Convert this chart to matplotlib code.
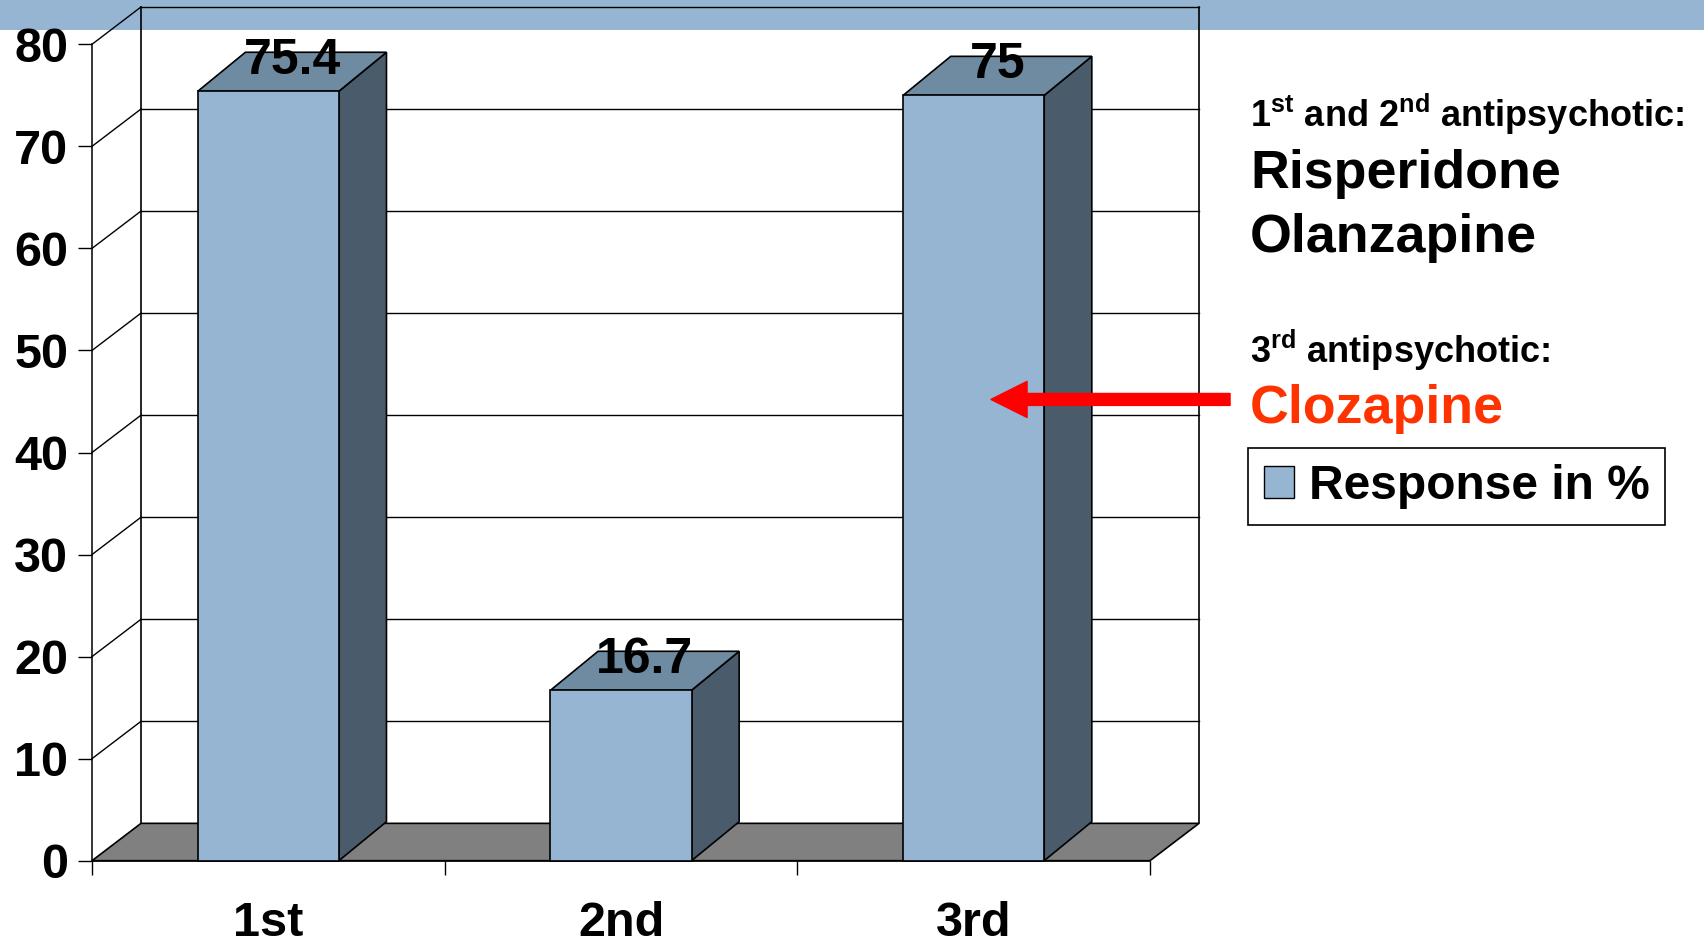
import matplotlib
matplotlib.use('Agg')
import matplotlib.pyplot as plt
from matplotlib.patches import Polygon, Rectangle, Patch

plt.rcParams['font.family'] = ['Liberation Sans', 'DejaVu Sans']
plt.rcParams['mathtext.fontset'] = 'custom'
plt.rcParams['mathtext.rm'] = 'Liberation Sans'
plt.rcParams['mathtext.bf'] = 'Liberation Sans:bold'

# данные
categories = ['1st', '2nd', '3rd']
response = [75.4, 16.7, 75]
y_ticks = [0, 10, 20, 30, 40, 50, 60, 70, 80]

# цвета
band_c = '#95B5D3'
front_c = '#95B5D3'
top_c = '#6E8BA1'
side_c = '#4A5B6B'
floor_c = '#808080'

# глубина "3D" в единицах данных
WDX, WDY = 0.139, 3.66
BDX, BDY = 0.135, 3.82
BW = 0.40

fig = plt.figure(figsize=(17.04, 9.43), dpi=100)
# синяя полоса сверху
fig.patches.append(Rectangle((0, 1 - 30 / 943), 1, 30 / 943, transform=fig.transFigure,
                             facecolor=band_c, edgecolor='none', zorder=-1))

ax = fig.add_axes([92 / 1704, (943 - 860.7) / 943, 1058 / 1704, 816.4 / 943])
ax.patch.set_visible(False)
ax.set_xlim(0, 3)
ax.set_ylim(0, 80)
n = len(categories)

# пол
ax.add_patch(Polygon([(0, 0), (n, 0), (n + WDX, WDY), (WDX, WDY)], closed=True,
                     facecolor=floor_c, edgecolor='black', lw=1.2, clip_on=False, zorder=1))
# сетка на задней и левой стенках
for v in y_ticks[1:]:
    ax.plot([WDX, n + WDX], [v + WDY, v + WDY], color='black', lw=1, clip_on=False, zorder=1)
    ax.plot([0, WDX], [v, v + WDY], color='black', lw=1, clip_on=False, zorder=1)
ax.plot([WDX, WDX], [WDY, 80 + WDY], color='black', lw=1.2, clip_on=False, zorder=1)
ax.plot([n + WDX, n + WDX], [WDY, 80 + WDY], color='black', lw=1.2, clip_on=False, zorder=1)

# столбцы
for i, v in enumerate(response):
    x0 = i + 0.5 - BW / 2
    x1 = x0 + BW
    ax.add_patch(Polygon([(x1, 0), (x1 + BDX, BDY), (x1 + BDX, v + BDY), (x1, v)], closed=True,
                         facecolor=side_c, edgecolor='black', lw=1.2, clip_on=False, zorder=3))
    ax.add_patch(Polygon([(x0, v), (x1, v), (x1 + BDX, v + BDY), (x0 + BDX, v + BDY)], closed=True,
                         facecolor=top_c, edgecolor='black', lw=1.2, clip_on=False, zorder=3))
    ax.add_patch(Rectangle((x0, 0), BW, v, facecolor=front_c, edgecolor='black', lw=1.2,
                           clip_on=False, zorder=4))
    ax.text(i + 0.5 + BDX / 2, v + BDY - 0.4, f'{v:g}', ha='center', va='center_baseline',
            fontsize=36, fontweight='bold', zorder=5)

# оси
for s in ['top', 'right']:
    ax.spines[s].set_visible(False)
for s in ['left', 'bottom']:
    ax.spines[s].set_linewidth(1.1)
    ax.spines[s].set_zorder(2)
ax.set_yticks(y_ticks)
ax.set_yticklabels([str(t) for t in y_ticks], fontsize=35, fontweight='bold')
ax.tick_params(axis='y', direction='out', length=10, width=1, pad=7)
ax.set_xticks(range(n + 1))
ax.set_xticklabels([])
ax.set_xticks([i + 0.5 for i in range(n)], minor=True)
ax.set_xticklabels(categories, minor=True, fontsize=35, fontweight='bold')
ax.tick_params(axis='x', which='major', direction='out', length=10, width=1)
ax.tick_params(axis='x', which='minor', length=0, pad=29)

# стрелка на 3-й столбец
ax.annotate('', xy=(2.549, 45.2), xytext=(3.227, 45.2),
            arrowprops=dict(facecolor='#FF0000', edgecolor='#FF0000', width=8.6,
                            headwidth=26, headlength=26, shrink=0),
            annotation_clip=False, zorder=6)

# подписи справа
tx = 1250 / 1704
fig.text(tx, 1 - 126.7 / 943, r'$\mathbf{1^{st}}$ and $\mathbf{2^{nd}}$ antipsychotic:',
         fontsize=26, fontweight='bold', va='baseline')
fig.text(tx, 1 - 188 / 943, 'Risperidone', fontsize=38.7, fontweight='bold', va='baseline')
fig.text(tx, 1 - 251.7 / 943, 'Olanzapine', fontsize=38.7, fontweight='bold', va='baseline')
fig.text(tx, 1 - 363 / 943, r'$\mathbf{3^{rd}}$ antipsychotic:',
         fontsize=26, fontweight='bold', va='baseline')
fig.text(tx, 1 - 423 / 943, 'Clozapine', fontsize=38.7, fontweight='bold', va='baseline',
         color='#FF3300')

leg = ax.legend(handles=[Patch(facecolor=front_c, edgecolor='black', lw=1)],
                labels=['Response in %'], loc='upper left',
                bbox_to_anchor=(1248 / 1704, 1 - 448 / 943), bbox_transform=fig.transFigure,
                prop=dict(weight='bold', size=34.5), frameon=True, fancybox=False,
                edgecolor='black', framealpha=1, borderpad=0.33, handletextpad=0.32,
                handlelength=0.62, handleheight=0.66, borderaxespad=0)
leg.get_frame().set_linewidth(1.2)

fig.savefig('out.png', dpi=100)
